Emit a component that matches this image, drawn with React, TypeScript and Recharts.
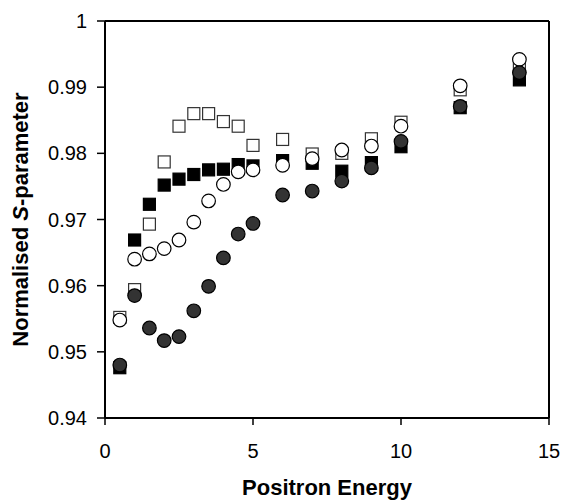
import React from 'react';
import { ScatterChart, Scatter, XAxis, YAxis, Label, ReferenceLine } from 'recharts';

// positron energy (keV)
const energy = [0.5, 1, 1.5, 2, 2.5, 3, 3.5, 4, 4.5, 5, 6, 7, 8, 9, 10, 12, 14];

const openSquares = [0.9552, 0.9594, 0.9693, 0.9787, 0.9841, 0.986, 0.986, 0.9848, 0.9841, 0.9812, 0.9821, 0.9799, 0.98, 0.9822, 0.9847, 0.9896, 0.9933];
const filledSquares = [0.9476, 0.9669, 0.9723, 0.9752, 0.9761, 0.9768, 0.9775, 0.9776, 0.9783, 0.9781, 0.9789, 0.9785, 0.9773, 0.9786, 0.981, 0.9869, 0.9911];
const openCircles = [0.9548, 0.964, 0.9648, 0.9656, 0.9669, 0.9696, 0.9728, 0.9753, 0.9772, 0.9775, 0.9782, 0.9792, 0.9805, 0.9811, 0.9841, 0.9902, 0.9942];
const filledCircles = [0.948, 0.9585, 0.9536, 0.9517, 0.9523, 0.9562, 0.9599, 0.9642, 0.9678, 0.9694, 0.9737, 0.9743, 0.9758, 0.9778, 0.9818, 0.9871, 0.9922];

const xTicks = [0, 5, 10, 15];
const yTicks = [0.94, 0.95, 0.96, 0.97, 0.98, 0.99, 1];

const toPoints = (ys: number[]) => energy.map((x, i) => ({ x, y: ys[i] }));

const square = (fill: string, stroke: string) => (p: any) => (
  <rect x={p.cx - 6} y={p.cy - 6} width={12} height={12} fill={fill} stroke={stroke} strokeWidth={1.2} />
);
const circle = (fill: string) => (p: any) => (
  <circle cx={p.cx} cy={p.cy} r={6.8} fill={fill} stroke="#000" strokeWidth={1.2} />
);

const font = '"Liberation Sans", Arial, sans-serif';
const tickStyle = { fill: '#000', fontSize: 20, fontFamily: font };
const frame = { stroke: '#000', strokeWidth: 2 };

const YTitle = ({ viewBox }: any) => {
  const cy = viewBox.y + viewBox.height / 2;
  return (
    <text x={28} y={cy} transform={`rotate(-90 28 ${cy})`} textAnchor="middle"
      fontFamily={font} fontSize={22} fontWeight="bold" fill="#000">
      Normalised <tspan fontStyle="italic">S</tspan>-parameter
    </text>
  );
};

const XTitle = ({ viewBox }: any) => (
  <text x={viewBox.x + viewBox.width / 2} y={495} textAnchor="middle"
    fontFamily={font} fontSize={22} fontWeight="bold" fill="#000">
    Positron Energy
  </text>
);

export default function App() {
  return (
    <div style={{ position: 'absolute', left: 0, top: 0, background: '#fff' }}>
      <ScatterChart width={565} height={500} margin={{ top: 21, right: 16, bottom: 52, left: 45 }}>
        <XAxis type="number" dataKey="x" domain={[0, 15]} ticks={xTicks}
          height={30} tickSize={7} tickMargin={19} tick={tickStyle}
          axisLine={frame} tickLine={{ stroke: '#000', strokeWidth: 1.5 }}>
          <Label content={<XTitle />} />
        </XAxis>
        <YAxis type="number" dataKey="y" domain={[0.94, 1]} ticks={yTicks}
          width={60} tickSize={8} tickMargin={10} tick={tickStyle}
          tickFormatter={(v: number) => (v === 1 ? '1' : v.toFixed(2))}
          axisLine={frame} tickLine={{ stroke: '#000', strokeWidth: 1.5 }}>
          <Label content={<YTitle />} />
        </YAxis>
        <ReferenceLine y={1} stroke="#000" strokeWidth={2} />
        <ReferenceLine x={15} stroke="#000" strokeWidth={2} />
        <Scatter data={toPoints(openSquares)} shape={square('#fff', '#333')} isAnimationActive={false} />
        <Scatter data={toPoints(filledSquares)} shape={square('#000', '#000')} isAnimationActive={false} />
        <Scatter data={toPoints(openCircles)} shape={circle('#fff')} isAnimationActive={false} />
        <Scatter data={toPoints(filledCircles)} shape={circle('#333')} isAnimationActive={false} />
      </ScatterChart>
    </div>
  );
}
